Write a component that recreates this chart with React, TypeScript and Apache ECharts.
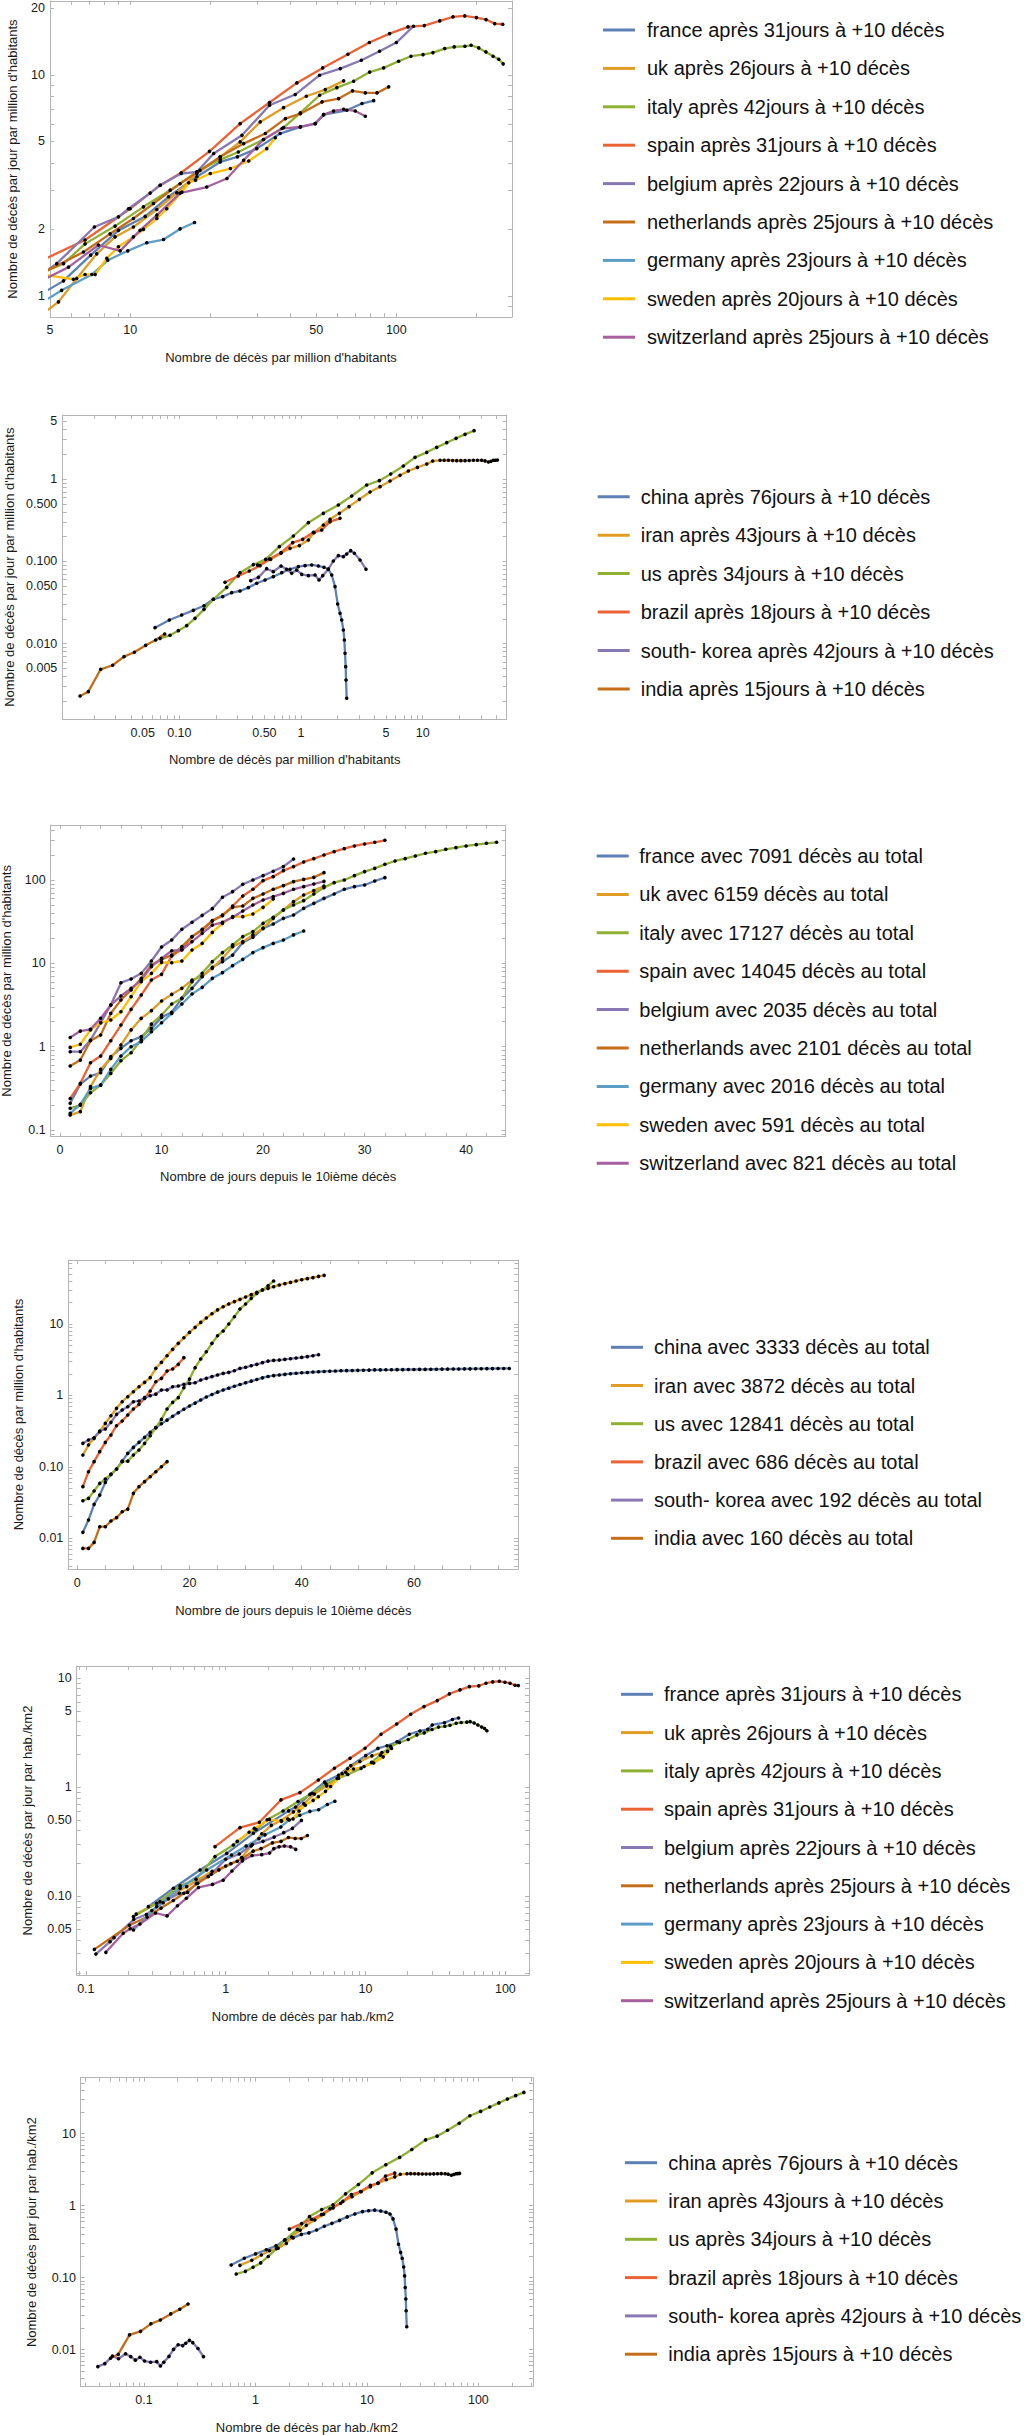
import React, { useEffect, useRef } from 'react';
import * as echarts from 'echarts';

const COLORS = ['#5E81B5', '#E19C24', '#8FB032', '#EB6235', '#8778B3', '#C56E1A', '#5D9EC7', '#FFBF00', '#A5609D'];
const FONT = '"Liberation Sans", Arial, Helvetica, sans-serif';

// ---------- legend names ----------
const europeApres = [
  'france après 31jours à +10 décès', 'uk après 26jours à +10 décès', 'italy après 42jours à +10 décès',
  'spain après 31jours à +10 décès', 'belgium après 22jours à +10 décès', 'netherlands après 25jours à +10 décès',
  'germany après 23jours à +10 décès', 'sweden après 20jours à +10 décès', 'switzerland après 25jours à +10 décès',
];
const worldApres = [
  'china après 76jours à +10 décès', 'iran après 43jours à +10 décès', 'us après 34jours à +10 décès',
  'brazil après 18jours à +10 décès', 'south- korea après 42jours à +10 décès', 'india après 15jours à +10 décès',
];
const europeTotal = [
  'france avec 7091 décès au total', 'uk avec 6159 décès au total', 'italy avec 17127 décès au total',
  'spain avec 14045 décès au total', 'belgium avec 2035 décès au total', 'netherlands avec 2101 décès au total',
  'germany avec 2016 décès au total', 'sweden avec 591 décès au total', 'switzerland avec 821 décès au total',
];
const worldTotal = [
  'china avec 3333 décès au total', 'iran avec 3872 décès au total', 'us avec 12841 décès au total',
  'brazil avec 686 décès au total', 'south- korea avec 192 décès au total', 'india avec 160 décès au total',
];

// ---------- axis titles ----------
const tDecesMillion = "Nombre de décès par million d'habitants";
const tJourMillion = "Nombre de décès par jour par million d'habitants";
const tJours = 'Nombre de jours depuis le 10ième décès';
const tDecesKm = 'Nombre de décès par hab./km2';
const tJourKm = 'Nombre de décès par jour par hab./km2';

// ---------- tick labels ----------
const p1XVals = [5, 10, 50, 100]; const p1XText = ['5', '10', '50', '100'];
const p1YVals = [1, 2, 5, 10, 20]; const p1YText = ['1', '2', '5', '10', '20'];
const p2XVals = [0.05, 0.1, 0.5, 1, 5, 10]; const p2XText = ['0.05', '0.10', '0.50', '1', '5', '10'];
const p2YVals = [0.005, 0.01, 0.05, 0.1, 0.5, 1, 5]; const p2YText = ['0.005', '0.010', '0.050', '0.100', '0.500', '1', '5'];
const p3XVals = [0, 10, 20, 30, 40]; const p3XText = ['0', '10', '20', '30', '40'];
const p3YVals = [0.1, 1, 10, 100]; const p3YText = ['0.1', '1', '10', '100'];
const p4XVals = [0, 20, 40, 60]; const p4XText = ['0', '20', '40', '60'];
const p4YVals = [0.01, 0.1, 1, 10]; const p4YText = ['0.01', '0.10', '1', '10'];
const p5XVals = [0.1, 1, 10, 100]; const p5XText = ['0.1', '1', '10', '100'];
const p5YVals = [0.05, 0.1, 0.5, 1, 5, 10]; const p5YText = ['0.05', '0.10', '0.50', '1', '5', '10'];
const p6XVals = [0.1, 1, 10, 100]; const p6XText = ['0.1', '1', '10', '100'];
const p6YVals = [0.01, 0.1, 1, 10]; const p6YText = ['0.01', '0.10', '1', '10'];

// ---------- panel 1 : [deaths per million, daily deaths per million] ----------
const p1France = [[4.5, 1.0], [5.62, 1.17], [7.11, 1.53], [9.04, 1.98], [11.39, 2.29], [13.94, 2.81], [17.81, 3.46], [21.8, 4.04], [25.3, 4.26], [29.9, 4.64], [36.6, 5.43], [43.6, 5.82], [49.6, 6.02], [53.3, 6.61], [65.2, 6.92], [74.3, 7.42], [82.2, 7.65]];
const p1UK = [[4.5, 0.8], [5.38, 0.94], [6.3, 1.2], [7.49, 1.55], [8.78, 1.85], [10.29, 2.05], [12.6, 2.46], [14.97, 2.93], [17.81, 3.58], [21.8, 4.26], [25.9, 4.98], [30.8, 6.13], [37.7, 7.11], [45.9, 8.01], [54.1, 8.58], [63.4, 9.4]];
const p1Italy = [[4.5, 1.25], [5.62, 1.4], [6.77, 1.72], [8.78, 2.07], [11.22, 2.53], [14.14, 3.01], [17.81, 3.64], [21.8, 4.14], [25.5, 4.48], [31.7, 5.1], [37.7, 5.78], [43.6, 6.73], [51.5, 8.09], [59.8, 8.76], [69.1, 9.36], [79.4, 10.3], [89.6, 10.76], [102, 11.53], [113.5, 12.15], [126, 12.36], [137.3, 12.62], [152, 13.16], [165, 13.39], [181, 13.48], [191, 13.62], [204, 13.25], [217, 12.71], [231, 12.15], [242.5, 11.78], [252, 11.22]];
const p1Spain = [[4.5, 1.42], [6.77, 1.79], [10, 2.48], [12.97, 3.17], [15.55, 3.61], [19.87, 4.51], [25.9, 6.02], [33.4, 7.5], [42.3, 9.2], [52.9, 10.76], [65.8, 12.4], [79.2, 14.01], [94.4, 15.38], [110.6, 16.49], [127.4, 16.72], [145.6, 17.55], [163.3, 18.3], [180.7, 18.49], [199.9, 18.17], [217.3, 17.8], [234.2, 17.07], [251, 16.95]];
const p1Belgium = [[4.5, 1.22], [5.3, 1.4], [7.34, 2.05], [9.04, 2.28], [9.86, 2.48], [11.89, 2.92], [12.97, 3.17], [15.55, 3.58], [17.81, 3.64], [20.6, 4.41], [26.3, 5.33], [33.4, 7.29], [41.7, 8.15], [51.5, 9.97], [61.6, 10.68], [73.9, 11.65], [86.5, 12.8], [100, 14.01], [116, 16.6]];
const p1Netherlands = [[4.5, 1.24], [6.68, 1.58], [8.41, 1.91], [10.29, 2.24], [12.24, 2.62], [15.4, 3.22], [18.3, 3.7], [21.8, 4.26], [26.7, 4.89], [32.2, 5.43], [38.3, 6.34], [43.6, 6.68], [52.6, 7.55], [60.7, 7.81], [68.5, 8.47], [76.5, 8.29], [84.6, 8.29], [93.6, 8.83]];
const p1Germany = [[4.5, 0.91], [5.53, 1.06], [7.18, 1.25], [8.24, 1.45], [9.8, 1.6], [11.55, 1.74], [13.35, 1.8], [15.4, 2.01], [17.46, 2.15]];
const p1Sweden = [[4.5, 1.26], [6.12, 1.19], [6.77, 1.25], [7.39, 1.25], [8.17, 1.48], [9.04, 1.67], [10.29, 1.85], [11.22, 2.0], [12.6, 2.24], [13.73, 2.48], [15.64, 2.95], [16.6, 3.25], [17.6, 3.34], [20.0, 3.58], [23.8, 3.77], [27.9, 4.08], [32.6, 4.64], [35.1, 5.2]];
const p1Switzerland = [[4.5, 1.15], [5.87, 1.35], [7.6, 1.7], [9.17, 1.6], [10.9, 1.98], [12.6, 2.32], [15.4, 2.92], [19.4, 3.11], [23.1, 3.4], [26.7, 4.11], [31.7, 5.1], [37.2, 5.72], [43.6, 5.82], [49.6, 6.02], [53.3, 6.61], [58.1, 6.87], [63.4, 6.99], [70.1, 6.87], [76.5, 6.5]];

// ---------- panel 2 ----------
const p2China = [[0.0631, 0.01564], [0.0828, 0.01938], [0.1045, 0.0223], [0.1303, 0.0254], [0.1595, 0.0289], [0.1903, 0.0346], [0.227, 0.0372], [0.2692, 0.0416], [0.315, 0.0436], [0.369, 0.0479], [0.432, 0.0541], [0.506, 0.0593], [0.592, 0.0651], [0.694, 0.0728], [0.812, 0.08], [0.951, 0.0861], [1.079, 0.0886], [1.224, 0.0903], [1.388, 0.0878], [1.545, 0.0846], [1.678, 0.08], [1.787, 0.0682], [1.903, 0.0493], [2.001, 0.0303], [2.092, 0.0234], [2.159, 0.01938], [2.228, 0.01466], [2.271, 0.01108], [2.299, 0.00763], [2.328, 0.00526], [2.343, 0.00362], [2.373, 0.00217]];
const p2Iran = [[0.44, 0.09], [0.563, 0.1057], [0.685, 0.1251], [0.812, 0.1438], [0.969, 0.155], [1.149, 0.1816], [1.279, 0.2229], [1.526, 0.2763], [1.731, 0.3237], [2.066, 0.3828], [2.48, 0.4613], [3.016, 0.5662], [3.69, 0.6953], [4.46, 0.807], [5.39, 0.9456], [6.51, 1.108], [7.62, 1.251], [9.04, 1.386], [10.79, 1.521], [12.08, 1.654], [13.88, 1.687], [15.0, 1.69], [16.26, 1.687], [17.6, 1.68], [19.03, 1.67], [20.6, 1.67], [22.28, 1.67], [24.1, 1.68], [26.09, 1.687], [28.2, 1.69], [30.5, 1.687], [32.5, 1.66], [34.65, 1.608], [36.4, 1.64], [38.1, 1.687], [39.6, 1.69], [41.1, 1.7]];
const p2US = [[0.0694, 0.0116], [0.0838, 0.01263], [0.0981, 0.01438], [0.1149, 0.01654], [0.1345, 0.0203], [0.1595, 0.0261], [0.1903, 0.0346], [0.2449, 0.0483], [0.315, 0.0728], [0.4058, 0.0911], [0.5124, 0.1057], [0.6637, 0.1507], [0.865, 0.2031], [1.149, 0.2949], [1.526, 0.3828], [2.027, 0.4833], [2.609, 0.6217], [3.465, 0.8456], [4.404, 0.954], [5.457, 1.15], [6.937, 1.438], [8.65, 1.833], [10.79, 2.108], [13.04, 2.424], [15.75, 2.762], [18.8, 3.12], [22.28, 3.487], [26.42, 3.864]];
const p2Brazil = [[0.2373, 0.0556], [0.3054, 0.0664], [0.376, 0.0763], [0.4603, 0.0886], [0.549, 0.1068], [0.685, 0.1274], [0.854, 0.1685], [1.032, 0.185], [1.263, 0.225], [1.479, 0.24], [1.731, 0.3032], [2.092, 0.333]];
const p2SouthKorea = [[0.386, 0.0582], [0.446, 0.0639], [0.522, 0.0814], [0.592, 0.0749], [0.685, 0.0878], [0.762, 0.08], [0.838, 0.0715], [0.921, 0.0785], [1.013, 0.0695], [1.149, 0.067], [1.303, 0.0682], [1.406, 0.0593], [1.507, 0.067], [1.678, 0.0807], [1.844, 0.101], [2.027, 0.1172], [2.228, 0.1139], [2.373, 0.1228], [2.56, 0.1348], [2.744, 0.1251], [3.054, 0.1038], [3.42, 0.08]];
const p2India = [[0.01527, 0.00231], [0.01787, 0.00261], [0.02257, 0.00488], [0.02832, 0.00546], [0.0351, 0.00695], [0.0427, 0.00785], [0.0529, 0.00954], [0.0639, 0.01108], [0.0758, 0.0131]];

// ---------- panel 3 : cumulative deaths per million, day 1..N ----------
const p3France = [0.209, 0.356, 0.444, 0.487, 0.759, 0.955, 1.18, 1.32, 1.66, 2.25, 2.59, 3.81, 5.02, 6.93, 8.98, 10.5, 12.6, 17.8, 20.6, 26.4, 29.8, 34.8, 38.2, 45.9, 52.7, 60.5, 68.3, 77.7, 83.6, 87.6, 97.8, 107.3];
const p3UK = [0.151, 0.166, 0.331, 0.534, 0.724, 1.05, 1.59, 2.19, 2.71, 3.54, 4.25, 5.02, 6.32, 7.06, 8.73, 11.5, 15.9, 18.3, 22.0, 26.4, 34.8, 43.9, 55.2, 66.4, 74.9, 85.2];
const p3Italy = [0.182, 0.199, 0.28, 0.346, 0.478, 0.679, 0.847, 1.22, 1.87, 2.4, 3.26, 3.81, 6.04, 7.6, 10.5, 13.5, 16.7, 21.0, 24.1, 30.3, 35.8, 43.9, 50.4, 56.8, 68.3, 81.4, 93.4, 100.6, 113.4, 126.6, 138.8, 155.1, 170.1, 181.5, 195.4, 210.3, 220.2, 234.9, 246.0, 257.6, 267.3, 277.3, 285.1];
const p3Spain = [0.239, 0.363, 0.642, 0.772, 1.18, 1.82, 2.81, 4.18, 6.32, 7.4, 12.3, 14.8, 21.0, 25.7, 32.7, 37.5, 49.0, 64.6, 77.7, 98.7, 110.3, 130.2, 145.4, 165.5, 181.5, 200.8, 220.2, 239.2, 257.6, 272.2, 285.1, 301.3];
const p3Belgium = [0.871, 0.871, 1.2, 1.94, 3.17, 5.87, 6.5, 7.6, 10.7, 15.76, 19.1, 25.7, 31.2, 37.8, 45.5, 62.3, 72.8, 89.2, 100.6, 113.4, 127.8, 145.4, 179.8];
const p3Netherlands = [0.586, 0.691, 1.18, 1.38, 2.51, 3.64, 4.8, 6.62, 9.58, 11.2, 12.6, 15.9, 21.0, 25.2, 32.3, 38.2, 47.2, 49.0, 60.5, 68.3, 77.7, 86.0, 96.0, 102.4, 108.2, 123.1];
const p3Germany = [0.158, 0.203, 0.316, 0.346, 0.534, 0.772, 1.0, 1.15, 1.51, 1.94, 2.51, 3.26, 4.29, 5.16, 6.62, 7.75, 9.4, 11.2, 13.5, 15.5, 17.4, 19.1, 22.0, 24.5];
const p3Sweden = [0.98, 1.07, 1.59, 1.94, 2.09, 2.63, 3.99, 6.04, 7.6, 10.3, 10.2, 10.7, 14.5, 17.4, 23.6, 30.3, 36.5, 36.5, 39.3, 47.2, 59.4];
const p3Switzerland = [1.29, 1.54, 1.62, 2.19, 3.17, 4.06, 5.02, 6.32, 9.15, 11.5, 14.2, 14.5, 18.3, 23.0, 28.9, 31.2, 35.8, 42.7, 50.4, 57.8, 63.4, 69.5, 77.7, 83.6, 90.0, 96.9];

// ---------- panel 4 ----------
const p4China = [0.0121, 0.018, 0.0298, 0.0402, 0.0605, 0.0784, 0.0931, 0.12, 0.154, 0.187, 0.22, 0.258, 0.303, 0.353, 0.4, 0.45, 0.51, 0.57, 0.64, 0.71, 0.78, 0.86, 0.95, 1.03, 1.11, 1.19, 1.26, 1.34, 1.42, 1.5, 1.58, 1.67, 1.76, 1.84, 1.89, 1.93, 1.97, 2.01, 2.04, 2.07, 2.09, 2.12, 2.14, 2.16, 2.18, 2.19, 2.21, 2.22, 2.23, 2.24, 2.25, 2.26, 2.27, 2.27, 2.28, 2.28, 2.29, 2.29, 2.3, 2.3, 2.31, 2.31, 2.32, 2.32, 2.33, 2.33, 2.34, 2.34, 2.35, 2.35, 2.36, 2.36, 2.37, 2.37, 2.38, 2.38, 2.38];
const p4Iran = [0.146, 0.202, 0.25, 0.31, 0.405, 0.519, 0.658, 0.815, 0.958, 1.125, 1.32, 1.52, 1.77, 2.39, 2.9, 3.59, 4.41, 5.35, 6.41, 7.62, 8.95, 10.5, 12.1, 13.9, 15.7, 17.4, 19.0, 20.5, 22.1, 23.8, 25.7, 27.7, 29.8, 31.5, 33.2, 35.1, 36.6, 38.2, 39.9, 41.6, 43.0, 44.4, 46.3, 47.9];
const p4US = [0.0335, 0.0361, 0.0458, 0.0586, 0.0675, 0.0784, 0.0931, 0.118, 0.12, 0.146, 0.172, 0.213, 0.272, 0.353, 0.461, 0.644, 0.798, 0.928, 1.28, 1.69, 2.44, 3.23, 4.08, 5.35, 6.84, 7.96, 9.97, 12.6, 16.2, 19.0, 22.8, 26.8, 29.8, 34.3, 39.9];
const p4Brazil = [0.0527, 0.0854, 0.118, 0.163, 0.22, 0.279, 0.376, 0.437, 0.53, 0.644, 0.748, 0.908, 1.15, 1.55, 1.73, 2.19, 2.34, 2.72, 3.37];
const p4SouthKorea = [0.213, 0.237, 0.255, 0.317, 0.338, 0.419, 0.542, 0.623, 0.694, 0.815, 0.833, 0.928, 0.989, 1.04, 1.19, 1.19, 1.32, 1.35, 1.43, 1.47, 1.5, 1.64, 1.73, 1.83, 1.93, 2.03, 2.1, 2.21, 2.39, 2.47, 2.6, 2.72, 2.87, 3.02, 3.09, 3.12, 3.19, 3.26, 3.33, 3.4, 3.48, 3.59, 3.71];
const p4India = [0.0072, 0.0072, 0.00875, 0.0145, 0.0145, 0.0174, 0.0194, 0.0235, 0.0256, 0.0425, 0.0527, 0.0619, 0.0727, 0.0854, 0.1, 0.118];

// ---------- panel 5 : per hab./km2 ----------
const p5France = [[0.28, 0.0807], [0.423, 0.119], [0.655, 0.175], [1.017, 0.248], [1.577, 0.379], [2.82, 0.608], [3.16, 0.659], [4.0, 0.861], [5.09, 1.115], [6.41, 1.29], [7.85, 1.58], [10.03, 1.95], [12.27, 2.27], [14.24, 2.4], [16.8, 2.61], [20.6, 3.06], [24.5, 3.28], [27.9, 3.39], [30.0, 3.72], [36.7, 3.9], [41.8, 4.18], [46.3, 4.31]];
const p5UK = [[0.229, 0.069], [0.339, 0.0897], [0.526, 0.123], [0.8, 0.17], [1.0, 0.19], [1.21, 0.21], [1.3, 0.227], [1.52, 0.29], [1.81, 0.375], [2.12, 0.448], [2.49, 0.496], [3.05, 0.595], [3.62, 0.709], [4.31, 0.866], [5.28, 1.03], [6.27, 1.205], [7.45, 1.48], [9.12, 1.72], [11.11, 1.94], [13.09, 2.08], [15.34, 2.27]];
const p5Italy = [[0.219, 0.0654], [0.321, 0.0866], [0.472, 0.125], [0.614, 0.144], [0.839, 0.232], [1.134, 0.296], [1.47, 0.387], [1.65, 0.41], [1.98, 0.504], [2.57, 0.607], [3.29, 0.741], [4.14, 0.882], [5.22, 1.07], [6.39, 1.21], [7.47, 1.31], [9.29, 1.49], [11.05, 1.69], [12.77, 1.97], [15.09, 2.37], [17.5, 2.57], [20.2, 2.74], [23.3, 3.02], [26.3, 3.15], [29.9, 3.38], [33.3, 3.56], [36.9, 3.62], [40.2, 3.7], [44.5, 3.86], [48.3, 3.92], [53.0, 3.95], [56.0, 3.99], [59.8, 3.88], [63.6, 3.72], [67.7, 3.56], [71.1, 3.45], [73.8, 3.29]];
const p5Spain = [[0.839, 0.286], [1.266, 0.427], [1.741, 0.478], [2.487, 0.766], [3.4, 0.894], [4.6, 1.167], [5.99, 1.493], [7.75, 1.844], [9.92, 2.277], [12.91, 3.06], [16.71, 3.8], [21.04, 4.66], [26.2, 5.48], [32.6, 6.22], [39.8, 7.16], [47.4, 7.79], [55.3, 8.36], [64.5, 8.48], [72.7, 8.97], [81.2, 9.22], [90.6, 9.35], [99.4, 9.16], [108, 8.97], [117.3, 8.6], [123.9, 8.54]];
const p5Belgium = [[0.118, 0.0297], [0.149, 0.0386], [0.159, 0.042], [0.22, 0.0615], [0.271, 0.0684], [0.296, 0.0744], [0.357, 0.0876], [0.389, 0.095], [0.467, 0.107], [0.534, 0.109], [0.618, 0.132], [0.789, 0.16], [1.0, 0.219], [1.25, 0.245], [1.55, 0.299], [1.85, 0.32], [2.22, 0.35], [2.6, 0.384], [3.0, 0.42], [3.48, 0.498]];
const p5Netherlands = [[0.115, 0.0328], [0.205, 0.0545], [0.274, 0.0648], [0.345, 0.0783], [0.422, 0.0918], [0.502, 0.107], [0.631, 0.132], [0.75, 0.152], [0.894, 0.175], [1.09, 0.2], [1.32, 0.223], [1.57, 0.26], [1.79, 0.274], [2.16, 0.31], [2.49, 0.32], [2.81, 0.347], [3.14, 0.34], [3.47, 0.34], [3.84, 0.362]];
const p5Germany = [[0.219, 0.0493], [0.321, 0.0807], [0.472, 0.119], [0.731, 0.175], [1.1, 0.24], [1.4, 0.29], [1.73, 0.339], [1.91, 0.367], [2.48, 0.433], [2.85, 0.502], [3.39, 0.554], [4.0, 0.602], [4.62, 0.623], [5.33, 0.695], [6.04, 0.744]];
const p5Sweden = [[1.21, 0.32], [1.6, 0.42], [2.05, 0.508], [2.51, 0.488], [2.78, 0.513], [3.03, 0.513], [3.35, 0.607], [3.71, 0.685], [4.22, 0.759], [4.6, 0.82], [5.17, 0.918], [5.63, 1.017], [6.41, 1.21], [6.81, 1.33], [7.22, 1.37], [8.2, 1.47], [9.76, 1.55], [11.44, 1.67], [13.37, 1.9], [14.39, 2.13]];
const p5Switzerland = [[0.139, 0.0308], [0.185, 0.046], [0.2075, 0.0506], [0.2436, 0.056], [0.315, 0.0706], [0.381, 0.0664], [0.452, 0.0822], [0.523, 0.0963], [0.639, 0.121], [0.805, 0.129], [0.959, 0.141], [1.108, 0.171], [1.316, 0.212], [1.544, 0.237], [1.81, 0.242], [2.06, 0.25], [2.21, 0.274], [2.41, 0.285], [2.63, 0.29], [2.91, 0.285], [3.17, 0.27]];

// ---------- panel 6 ----------
const p6China = [[0.606, 0.15], [0.795, 0.186], [1.003, 0.214], [1.251, 0.244], [1.531, 0.277], [1.827, 0.332], [2.18, 0.357], [2.58, 0.399], [3.02, 0.419], [3.54, 0.46], [4.15, 0.519], [4.86, 0.569], [5.68, 0.625], [6.66, 0.699], [7.8, 0.768], [9.13, 0.827], [10.36, 0.851], [11.75, 0.867], [13.32, 0.843], [14.83, 0.812], [16.11, 0.768], [17.16, 0.655], [18.27, 0.473], [19.21, 0.291], [20.08, 0.225], [20.73, 0.186], [21.39, 0.141], [21.8, 0.106], [22.07, 0.0732], [22.35, 0.0505], [22.49, 0.0348], [22.78, 0.0208]];
const p6Iran = [[0.726, 0.1485], [0.929, 0.1744], [1.13, 0.2064], [1.34, 0.237], [1.6, 0.256], [1.896, 0.3], [2.11, 0.368], [2.52, 0.456], [2.86, 0.534], [3.41, 0.632], [4.09, 0.761], [4.98, 0.934], [6.09, 1.147], [7.36, 1.332], [8.89, 1.56], [10.74, 1.83], [12.57, 2.06], [14.92, 2.29], [17.8, 2.51], [19.93, 2.73], [22.9, 2.78], [24.75, 2.79], [26.8, 2.78], [29.0, 2.77], [31.4, 2.76], [34.0, 2.76], [36.8, 2.76], [39.8, 2.77], [43.0, 2.78], [46.5, 2.79], [50.3, 2.78], [53.6, 2.74], [57.2, 2.65], [60.1, 2.71], [62.9, 2.78], [65.3, 2.79], [67.8, 2.81]];
const p6US = [[0.673, 0.1125], [0.813, 0.1225], [0.952, 0.1395], [1.115, 0.1604], [1.305, 0.197], [1.547, 0.253], [1.846, 0.336], [2.376, 0.4685], [3.056, 0.706], [3.936, 0.884], [4.97, 1.025], [6.44, 1.462], [8.39, 1.97], [11.15, 2.86], [14.8, 3.71], [19.66, 4.69], [25.3, 6.03], [33.6, 8.2], [42.7, 9.25], [52.9, 11.16], [67.3, 13.95], [83.9, 17.78], [104.7, 20.4], [126.5, 23.5], [152.8, 26.8], [182, 30.3], [216, 33.8], [256, 37.5]];
const p6Brazil = [[2.017, 0.473], [2.596, 0.564], [3.196, 0.649], [3.913, 0.753], [4.667, 0.908], [5.82, 1.083], [7.26, 1.432], [8.77, 1.573], [10.74, 1.913], [12.57, 2.04], [14.71, 2.58], [17.78, 2.83]];
const p6SouthKorea = [[0.0386, 0.00582], [0.0446, 0.00639], [0.0522, 0.00814], [0.0592, 0.00749], [0.0685, 0.00878], [0.0762, 0.008], [0.0838, 0.00715], [0.0921, 0.00785], [0.1013, 0.00695], [0.1149, 0.0067], [0.1303, 0.00682], [0.1406, 0.00593], [0.1507, 0.0067], [0.1678, 0.00807], [0.1844, 0.0101], [0.2027, 0.01172], [0.2228, 0.01139], [0.2373, 0.01228], [0.256, 0.01348], [0.2744, 0.01251], [0.3054, 0.01038], [0.342, 0.008]];
const p6India = [[0.0502, 0.0076], [0.0588, 0.00859], [0.0743, 0.01606], [0.0932, 0.01796], [0.1155, 0.02287], [0.1405, 0.02583], [0.174, 0.0314], [0.21, 0.0365], [0.249, 0.0431]];

// ---------- helpers ----------
function logTicks(min: number, max: number): number[] {
  const out: number[] = [];
  for (let e = Math.floor(Math.log10(min)); e <= Math.ceil(Math.log10(max)); e++) {
    for (let m = 1; m <= 9; m++) {
      const v = Number((m * Math.pow(10, e)).toPrecision(6));
      if (v >= min && v <= max) out.push(v);
    }
  }
  return out;
}
function linTicks(start: number, step: number, max: number): number[] {
  const out: number[] = [];
  for (let v = start; v <= max + 1e-9; v += step) out.push(Number(v.toFixed(6)));
  return out;
}
function fmt(vals: number[], texts: string[]) {
  return (v: number) => {
    for (let i = 0; i < vals.length; i++) {
      if (Math.abs(v - vals[i]) <= Math.abs(vals[i]) * 1e-6 + 1e-9) return texts[i];
    }
    return '';
  };
}
const days = (arr: number[]) => arr.map((v, i) => [i + 1, v]);

type AxisSpec = {
  type: 'log' | 'value'; min: number; max: number; vals: number[]; texts: string[]; ticks: number[];
  name: string; nameGap: number; margin: number;
};
type Panel = {
  grid: { left: number; top: number; width: number; height: number };
  x: AxisSpec; y: AxisSpec;
  names: string[]; data: number[][][];
  legend: { left: number; top: number; gap: number; pad: number };
};

const panels: Panel[] = [
  {
    grid: { left: 50, top: 1, width: 462, height: 316 },
    x: { type: 'log', min: 5, max: 272, vals: p1XVals, texts: p1XText, ticks: logTicks(5, 272), name: tDecesMillion, nameGap: 34, margin: 6.5 },
    y: { type: 'log', min: 0.803, max: 21.6, vals: p1YVals, texts: p1YText, ticks: logTicks(0.803, 21.6), name: tJourMillion, nameGap: 31.5, margin: 5 },
    names: europeApres,
    data: [p1France, p1UK, p1Italy, p1Spain, p1Belgium, p1Netherlands, p1Germany, p1Sweden, p1Switzerland],
    legend: { left: 598, top: 15, gap: 18.4, pad: 7 },
  },
  {
    grid: { left: 62.7, top: 415, width: 444, height: 304.3 },
    x: { type: 'log', min: 0.011, max: 49, vals: p2XVals, texts: p2XText, ticks: logTicks(0.011, 49), name: tDecesMillion, nameGap: 34, margin: 7 },
    y: { type: 'log', min: 0.001205, max: 5.99, vals: p2YVals, texts: p2YText, ticks: logTicks(0.001205, 5.99), name: tJourMillion, nameGap: 46.5, margin: 5.4 },
    names: worldApres,
    data: [p2China, p2Iran, p2US, p2Brazil, p2SouthKorea, p2India],
    legend: { left: 592.7, top: 481.7, gap: 18.46, pad: 6 },
  },
  {
    grid: { left: 50.7, top: 825, width: 455, height: 311.7 },
    x: { type: 'value', min: -0.92, max: 43.9, vals: p3XVals, texts: p3XText, ticks: linTicks(0, 2, 43), name: tJours, nameGap: 33.5, margin: 6.8 },
    y: { type: 'log', min: 0.083, max: 460, vals: p3YVals, texts: p3YText, ticks: logTicks(0.083, 460), name: tDecesMillion, nameGap: 37.5, margin: 5 },
    names: europeTotal,
    data: [p3France, p3UK, p3Italy, p3Spain, p3Belgium, p3Netherlands, p3Germany, p3Sweden, p3Switzerland].map(days),
    legend: { left: 591.7, top: 841, gap: 18.4, pad: 5.6 },
  },
  {
    grid: { left: 68.3, top: 1260, width: 450, height: 309 },
    x: { type: 'value', min: -1.6, max: 78.6, vals: p4XVals, texts: p4XText, ticks: linTicks(0, 5, 78), name: tJours, nameGap: 34.5, margin: 7.8 },
    y: { type: 'log', min: 0.00371, max: 78.5, vals: p4YVals, texts: p4YText, ticks: logTicks(0.00371, 78.5), name: tDecesMillion, nameGap: 43, margin: 5 },
    names: worldTotal,
    data: [p4China, p4Iran, p4US, p4Brazil, p4SouthKorea, p4India].map(days),
    legend: { left: 606, top: 1332.3, gap: 18.2, pad: 6 },
  },
  {
    grid: { left: 76.7, top: 1666, width: 452.3, height: 309 },
    x: { type: 'log', min: 0.086, max: 147.6, vals: p5XVals, texts: p5XText, ticks: logTicks(0.086, 147.6), name: tDecesKm, nameGap: 34.5, margin: 7.5 },
    y: { type: 'log', min: 0.0191, max: 12.9, vals: p5YVals, texts: p5YText, ticks: logTicks(0.0191, 12.9), name: tJourKm, nameGap: 42.5, margin: 5 },
    names: europeApres,
    data: [p5France, p5UK, p5Italy, p5Spain, p5Belgium, p5Netherlands, p5Germany, p5Sweden, p5Switzerland],
    legend: { left: 616, top: 1679.3, gap: 18.3, pad: 6 },
  },
  {
    grid: { left: 80.7, top: 2077.7, width: 452.3, height: 309 },
    x: { type: 'log', min: 0.0271, max: 309, vals: p6XVals, texts: p6XText, ticks: logTicks(0.0271, 309), name: tDecesKm, nameGap: 34.5, margin: 6.8 },
    y: { type: 'log', min: 0.00306, max: 60, vals: p6YVals, texts: p6YText, ticks: logTicks(0.00306, 60), name: tJourKm, nameGap: 43.2, margin: 4.7 },
    names: worldApres,
    data: [p6China, p6Iran, p6US, p6Brazil, p6SouthKorea, p6India],
    legend: { left: 620, top: 2147.7, gap: 18.3, pad: 6.3 },
  },
];

const FRAME = '#b4b4b4';

function axis(spec: AxisSpec, gridIndex: number, main: boolean, position: string) {
  return {
    type: spec.type,
    logBase: 10,
    gridIndex,
    position,
    min: spec.min,
    max: spec.max,
    name: main ? spec.name : '',
    nameLocation: 'middle',
    nameGap: spec.nameGap,
    nameTextStyle: { fontSize: 13, fontFamily: FONT, color: '#1a1a1a' },
    axisLine: { show: true, onZero: false, lineStyle: { color: FRAME, width: 1 } },
    axisTick: { show: true, inside: true, length: 4, customValues: spec.ticks, lineStyle: { color: FRAME, width: 1 } },
    axisLabel: {
      show: main, customValues: spec.vals, formatter: fmt(spec.vals, spec.texts), margin: spec.margin,
      fontSize: 12.5, fontFamily: FONT, color: '#1a1a1a', hideOverlap: false,
    },
    splitLine: { show: false },
    minorTick: { show: false },
    silent: true,
  };
}

function buildOption() {
  const grid: any[] = [];
  const xAxis: any[] = [];
  const yAxis: any[] = [];
  const series: any[] = [];
  const legend: any[] = [];
  panels.forEach((p, i) => {
    grid.push({ ...p.grid, containLabel: false, outerBoundsMode: 'none', show: false });
    xAxis.push(axis(p.x, i, true, 'bottom'));
    xAxis.push(axis(p.x, i, false, 'top'));
    yAxis.push(axis(p.y, i, true, 'left'));
    yAxis.push(axis(p.y, i, false, 'right'));
    p.data.forEach((d, k) => {
      series.push({
        type: 'line',
        name: p.names[k],
        xAxisIndex: 2 * i,
        yAxisIndex: 2 * i,
        data: d,
        symbol: 'circle',
        symbolSize: 3.6,
        showSymbol: true,
        clip: true,
        itemStyle: { color: '#000' },
        lineStyle: { color: COLORS[k], width: 2.3 },
        emphasis: { disabled: true },
        z: 2,
      });
    });
    legend.push({
      orient: 'vertical',
      left: p.legend.left,
      top: p.legend.top,
      itemGap: p.legend.gap,
      itemWidth: 32,
      itemHeight: 3,
      icon: 'rect',
      selectedMode: false,
      textStyle: { fontSize: 20, fontFamily: FONT, color: '#111', lineHeight: 20, padding: [0, 0, 0, p.legend.pad] },
      data: p.names.map((n, k) => ({ name: n, itemStyle: { color: COLORS[k], borderWidth: 0 } })),
    });
  });
  return { animation: false, backgroundColor: '#fff', grid, xAxis, yAxis, series, legend };
}

export default function App() {
  const ref = useRef<HTMLDivElement>(null);
  useEffect(() => {
    if (!ref.current) return;
    const chart = echarts.init(ref.current, undefined, { renderer: 'svg' });
    chart.setOption(buildOption() as any);
    return () => chart.dispose();
  }, []);
  return (
    <div
      ref={ref}
      style={{ position: 'absolute', left: 0, top: 0, width: 1024, height: 2435, background: '#fff' }}
    />
  );
}
